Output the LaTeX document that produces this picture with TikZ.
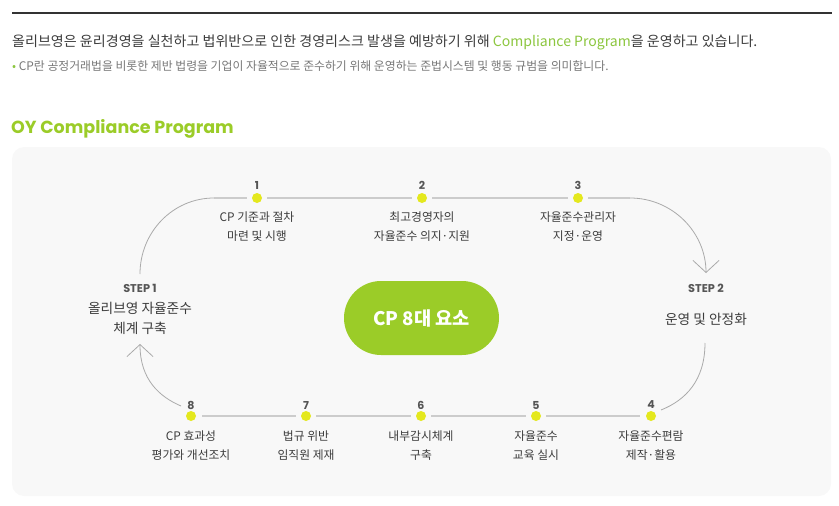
\documentclass[tikz,border=0pt]{standalone}
\usepackage{fontspec}
\setmainfont{Noto Sans CJK KR}
\newfontfamily\popp{Poppins}
\usetikzlibrary{arrows.meta}
\definecolor{oygreen}{HTML}{9BCC28}
\definecolor{txtgreen}{HTML}{8CC63F}
\definecolor{dotyel}{HTML}{E4E81E}
\definecolor{boxbg}{HTML}{F8F8F8}
\definecolor{txtdark}{HTML}{3C3C3C}
\definecolor{txtgray}{HTML}{777777}
\definecolor{numgray}{HTML}{555555}
\definecolor{trackc}{HTML}{CCCCCC}
\definecolor{arcc}{HTML}{AAAAAA}
\tikzset{
  dotn/.style={circle,fill=dotyel,minimum size=10pt,inner sep=0pt},
  numlab/.style={font=\popp\bfseries\fontsize{11}{12}\selectfont,text=numgray,inner sep=0pt},
  lab/.style={font=\fontsize{11.8}{19}\selectfont,text=txtdark,align=center,inner sep=0pt},
  steplab/.style={font=\popp\bfseries\fontsize{11.3}{12}\selectfont,text=numgray,inner sep=0pt},
  stepname/.style={font=\fontsize{13.7}{20}\selectfont,text=txtdark,align=center,inner sep=0pt},
  track/.style={draw=trackc,line width=1.6pt,shorten >=5pt,shorten <=5pt},
  arcl/.style={draw=arcc,line width=0.8pt},
  barb/.style={-{Straight Barb[length=12pt,width=26pt,line width=0.8pt]}}
}
\begin{document}
\begin{tikzpicture}[x=1pt,y=-1pt]
\useasboundingbox (0,0) rectangle (839,506);
% top bar
\fill[fill=black!80] (12,12) rectangle (832,14.2);
% header texts
\node[anchor=west,inner sep=0pt,font=\fontsize{14.05}{16}\selectfont,text=txtdark] (h1) at (12,42)
  {올리브영은 윤리경영을 실천하고 법위반으로 인한 경영리스크 발생을 예방하기 위해 \textcolor{txtgreen}{Compliance Program}을 운영하고 있습니다.};
\node[anchor=west,inner sep=0pt,font=\fontsize{11.85}{13}\selectfont,text=txtgray] (h2) at (12,66)
  {\textcolor{txtgreen}{•} CP란 공정거래법을 비롯한 제반 법령을 기업이 자율적으로 준수하기 위해 운영하는 준법시스템 및 행동 규범을 의미합니다.};
\node[anchor=west,inner sep=0pt,font=\popp\bfseries\fontsize{17.5}{20}\selectfont,text=oygreen] (title) at (11,129) {OY Compliance Program};
% box
\fill[boxbg,rounded corners=12pt] (12,147) rectangle (831,496);
% dots top
\node[dotn] (d1) at (257,198) {};
\node[dotn] (d2) at (422,198) {};
\node[dotn] (d3) at (578,198) {};
% dots bottom
\node[dotn] (d8) at (191,416) {};
\node[dotn] (d7) at (306,416) {};
\node[dotn] (d6) at (421,416) {};
\node[dotn] (d5) at (536,416) {};
\node[dotn] (d4) at (651,416) {};
% coordinates for curves
\coordinate (la) at (140,274);
\coordinate (lb) at (214,198);
\coordinate (ra) at (630,198);
\coordinate (rb) at (706,273);
\coordinate (lc) at (181,406);
\coordinate (ltip) at (140,344);
\coordinate (rc) at (705,343);
\coordinate (rd) at (661,410);
% tracks
\draw[track,shorten <=0pt] (lb) -- (d1);
\draw[track] (d1) -- (d2);
\draw[track] (d2) -- (d3);
\draw[track,shorten >=0pt] (d3) -- (ra);
\draw[track,shorten <=6pt] (d8) -- (d7);
\draw[track] (d7) -- (d6);
\draw[track] (d6) -- (d5);
\draw[track,shorten >=6pt] (d5) -- (d4);
% arcs
\draw[arcl] (la) .. controls (140,232) and (173,198) .. (lb);
\draw[arcl,barb] (ra) .. controls (672,198) and (706,232) .. (rb);
\draw[arcl,barb] (lc) .. controls (160,397) and (140,380) .. (ltip);
\draw[arcl] (rc) .. controls (705,380) and (686,400) .. (rd);
% numbers
\node[numlab] (n1) at (257,185) {1};
\node[numlab] (n2) at (422,185) {2};
\node[numlab] (n3) at (578,185) {3};
\node[numlab] (n8) at (191,405) {8};
\node[numlab] (n7) at (306,405) {7};
\node[numlab] (n6) at (421,405) {6};
\node[numlab] (n5) at (536,405) {5};
\node[numlab] (n4) at (651,405) {4};
% labels
\node[lab] (l1) at (257,227) {CP 기준과 절차\\마련 및 시행};
\node[lab] (l2) at (422,227) {최고경영자의\\자율준수 의지·지원};
\node[lab] (l3) at (578,227) {자율준수관리자\\지정·운영};
\node[lab] (l8) at (191,446) {CP 효과성\\평가와 개선조치};
\node[lab] (l7) at (306,446) {법규 위반\\임직원 제재};
\node[lab] (l6) at (421,446) {내부감시체계\\구축};
\node[lab] (l5) at (536,446) {자율준수\\교육 실시};
\node[lab] (l4) at (651,446) {자율준수편람\\제작·활용};
% steps
\node[steplab] (s1) at (140,288) {STEP 1};
\node[stepname] (s1n) at (140,318) {올리브영 자율준수\\체계 구축};
\node[steplab] (s2) at (706,288) {STEP 2};
\node[stepname] (s2n) at (706,319) {운영 및 안정화};
% center pill
\node[fill=oygreen,rounded corners=37pt,minimum width=155pt,minimum height=74pt,inner sep=0pt,
  text=white,font=\bfseries\fontsize{18.7}{20}\selectfont] (pill) at (421.5,318) {CP 8대 요소};
\end{tikzpicture}
\end{document}
